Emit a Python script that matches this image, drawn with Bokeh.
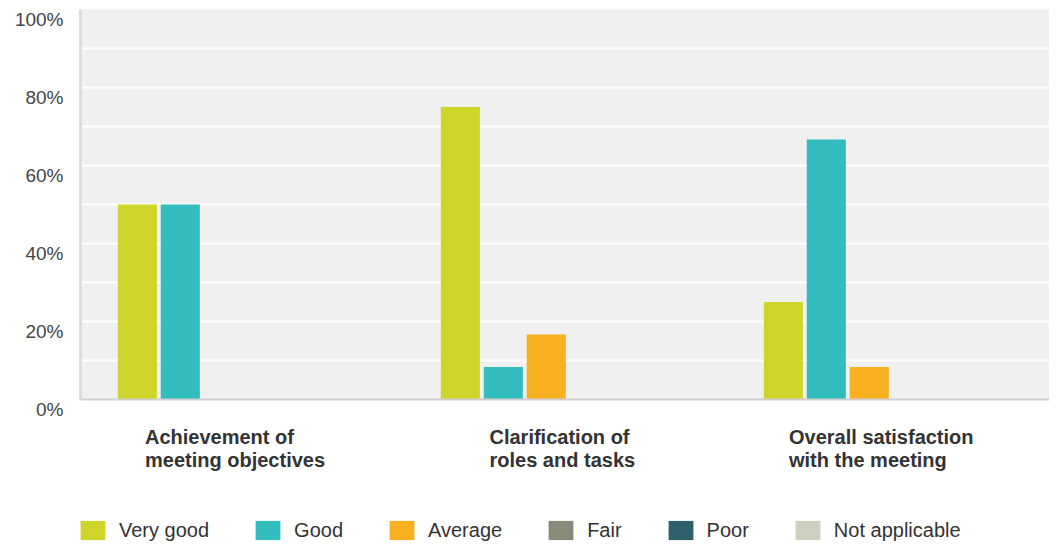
import numpy as np
from bokeh.plotting import figure
from bokeh.models import Range1d, BoxAnnotation, Legend, LegendItem
from bokeh.embed import file_html
from bokeh.resources import INLINE

categories = ["Achievement of\nmeeting objectives",
              "Clarification of\nroles and tasks",
              "Overall satisfaction\nwith the meeting"]
series = ["Very good", "Good", "Average", "Fair", "Poor", "Not applicable"]
very_good = [50.0, 75.0, 25.0]
good = [50.0, 8.33, 66.67]
average = [0.0, 16.67, 8.33]
fair = [0.0, 0.0, 0.0]
poor = [0.0, 0.0, 0.0]
not_applicable = [0.0, 0.0, 0.0]
values = [very_good, good, average, fair, poor, not_applicable]
colors = ["#cfd42a", "#33bdbf", "#f8b020", "#898a78", "#2e5f6b", "#cfcfc0"]
y_ticks = [0, 20, 40, 60, 80, 100]
y_labels = [f"{v}%" for v in y_ticks]
grid_ticks = [10, 20, 30, 40, 50, 60, 70, 80, 90]

FONT = "Liberation Sans"

# canvas geometry (pixels) -- the whole canvas is the frame so that texts outside
# the grey plotting area are not clipped
W, H = 1049, 543
PL, PR = 80, 1049        # plotting area left / right
PT, PB = 9, 399          # plotting area top / bottom
n = len(categories)
ppx = (PR - PL) / n      # pixels per category unit
ppy = (PB - PT) / 100.0  # pixels per percent

p = figure(width=W, height=H, output_backend="svg", toolbar_location=None,
           x_range=Range1d(-PL / ppx, n + (W - PR) / ppx),
           y_range=Range1d(-(H - PB) / ppy, 100 + PT / ppy),
           x_axis_location=None, y_axis_location=None, min_border=0)
p.xgrid.visible = False
p.ygrid.visible = False
p.background_fill_color = "white"
p.border_fill_color = "white"
p.outline_line_color = None

p.add_layout(BoxAnnotation(left=0, right=n, bottom=0, top=100, fill_color="#f0f0f0",
                           fill_alpha=1, line_color=None, level="underlay"))
p.segment(x0=0, x1=n, y0=grid_ticks, y1=grid_ticks, line_color="white", line_width=2)
p.segment(x0=0, x1=0, y0=0, y1=100, line_color="#dcdcdc", line_width=3)

# y tick labels, sitting just below their values
p.text(x=0, y=y_ticks, text=y_labels, x_offset=-17, y_offset=10,
       text_align="right", text_baseline="middle", text_font={"value": FONT},
       text_font_size="19px", text_color="#444444")

# category labels: centred blocks with left-aligned lines
block_w = np.array([194, 151, 198])
p.text(x=np.arange(n) + 0.5, y=np.zeros(n), text=categories,
       x_offset=-block_w / 2, y_offset=26, text_align="left", text_baseline="top",
       text_line_height=1.07, text_font={"value": FONT}, text_font_size="20px",
       text_font_style="bold", text_color="#333333")

group_idx = np.arange(n)
bar_w = 0.121
step = 0.133
first = 0.176
items = []
for k, (name, vals, c) in enumerate(zip(series, values, colors)):
    r = p.vbar(x=group_idx + first + step * k, top=vals, width=bar_w, bottom=0,
               fill_color=c, line_color=None)
    items.append(LegendItem(label=name, renderers=[r]))

# baseline drawn over the bars' feet
p.segment(x0=0, x1=n, y0=0, y1=0, line_color="#cfcfcf", line_width=2)

legend = Legend(items=items, orientation="horizontal", location=(77, 1),
                glyph_width=31, glyph_height=24, label_standoff=11, spacing=43,
                padding=0, margin=0, border_line_alpha=0, background_fill_alpha=0,
                label_text_font=FONT, label_text_font_size="20px",
                label_text_color="#333333", label_height=24)
p.add_layout(legend)

open("out.html", "w").write(file_html(p, INLINE))
